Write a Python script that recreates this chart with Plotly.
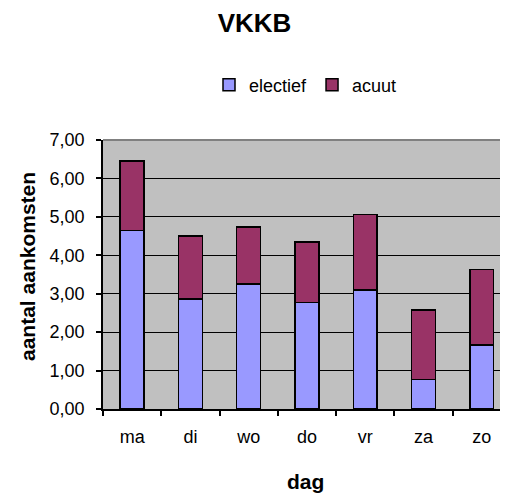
import plotly.graph_objects as go

days = ["ma", "di", "wo", "do", "vr", "za", "zo"]
electief = [4.64, 2.86, 3.25, 2.77, 3.10, 0.77, 1.67]
acuut = [1.82, 1.64, 1.48, 1.57, 1.96, 1.80, 1.96]
y_ticks = [0, 1, 2, 3, 4, 5, 6, 7]

FONT = "Liberation Sans, Arial, sans-serif"

# page body has an 8px margin, so the figure is laid out 8px smaller
W, H = 500, 490

fig = go.Figure()
fig.add_trace(go.Bar(x=days, y=electief, name="electief", width=0.41,
                     marker=dict(color="#9999FF", line=dict(color="black", width=1.5)),
                     hoverinfo="skip"))
fig.add_trace(go.Bar(x=days, y=acuut, name="acuut", width=0.41,
                     marker=dict(color="#993366", line=dict(color="black", width=1.5)),
                     hoverinfo="skip"))

fig.update_layout(
    width=W, height=H,
    barmode="stack",
    separators=",.",
    paper_bgcolor="white",
    plot_bgcolor="#C0C0C0",
    margin=dict(l=95, r=0, t=132, b=89, autoexpand=False),
    font=dict(family=FONT, size=18, color="black"),
    title=dict(text="<b>VKKB</b>", x=0.493, xanchor="center", y=1 - 15 / H,
               yanchor="middle", yref="container", font=dict(size=26, family=FONT)),
    legend=dict(orientation="h", x=0.5, xanchor="center", y=1.2045, yanchor="middle",
                font=dict(size=18), traceorder="normal", itemwidth=30,
                bgcolor="rgba(0,0,0,0)"),
    showlegend=True,
    xaxis=dict(range=[-0.5, 6.45], showline=True, linecolor="black", linewidth=1.5,
               ticks="outside", tickson="boundaries", ticklen=5, tickcolor="black",
               tickwidth=1.5, showgrid=False, ticklabelstandoff=11,
               tickfont=dict(size=18), fixedrange=True),
    yaxis=dict(range=[0, 7], tickvals=y_ticks, tickformat=".2f", showline=True,
               linecolor="black", linewidth=1.5, ticks="outside", ticklen=5,
               tickcolor="black", tickwidth=1.5, showgrid=True, gridcolor="black",
               gridwidth=1.2, zeroline=False, ticklabelstandoff=8,
               tickfont=dict(size=18), fixedrange=True),
    shapes=[dict(type="line", xref="paper", yref="paper", x0=0, x1=1, y0=1, y1=1,
                 line=dict(color="#808080", width=2))],
    annotations=[
        dict(text="<b>dag</b>", xref="paper", yref="paper", x=0.5, y=(401 - 473) / 269,
             xanchor="center", yanchor="middle", showarrow=False,
             font=dict(size=21, family=FONT)),
        dict(text="<b>aantal aankomsten</b>", xref="paper", yref="paper",
             x=(19.5 - 95) / 405, y=(401 - 258.5) / 269, textangle=-90,
             xanchor="center", yanchor="middle", showarrow=False,
             font=dict(size=21, family=FONT)),
    ],
)

fig.write_html("out.html")
